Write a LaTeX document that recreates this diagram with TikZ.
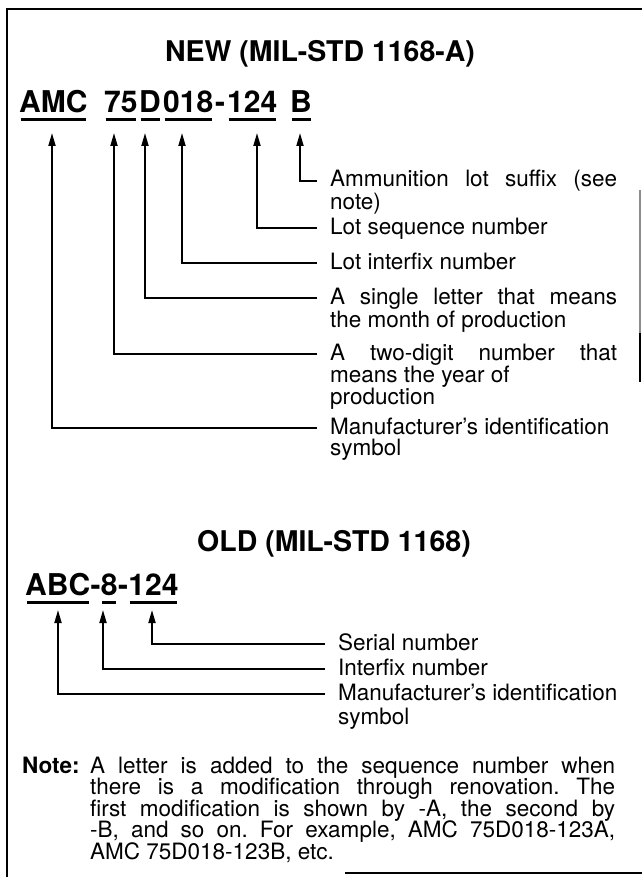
\documentclass[tikz,border=0pt]{standalone}
\usepackage{fontspec}
\setmainfont{TeX Gyre Heros}
\usetikzlibrary{arrows.meta}
\frenchspacing
\begin{document}
\begin{tikzpicture}[x=1pt,y=-1pt,
  lbl/.style={anchor=base west, inner sep=0pt, font=\fontsize{22.5}{26}\selectfont\frenchspacing},
  notelbl/.style={anchor=base west, inner sep=0pt, font=\fontsize{22.5}{26}\selectfont\bfseries},
  ttl/.style={anchor=base, inner sep=0pt, font=\fontsize{28.5}{32}\selectfont\bfseries},
  code/.style={anchor=base west, inner sep=0pt, font=\fontsize{30}{34}\selectfont\bfseries},
  uline/.style={line width=3pt, shorten <=1.5pt, shorten >=1.5pt},
  conn/.style={line width=1.8pt},
  arr/.style={conn, -{Triangle[length=13pt,width=7pt]}},
  frameline/.style={line width=2pt},
]
\useasboundingbox (0,0) rectangle (642,885);
% frame (as scanned)
\draw[frameline] (7,877) -- (7,9) -- (642,9);
\draw[frameline] (345,873) -- (642,873);
\draw[frameline, black!45] (640,190) -- (640,333);
\draw[frameline] (640,333) -- (640,382);

% ---------- NEW ----------
\node[ttl] (newt) at (320,62) {NEW (MIL-STD 1168-A)};
\node[code] (cAMC) at (19,113) {AMC};
\node[code] (c75) at (104,113) {75};
\node[code] (cD) at (139,113) {D};
\node[code] (c018) at (163,113) {018};
\node[code] (cdash) at (215,113) {-};
\node[code] (c124) at (227,113) {124};
\node[code] (cB) at (290,113) {B};
\foreach \n in {cAMC,c75,cD,c018,c124,cB}
  \draw[uline] ([yshift=-7pt]\n.base west) -- ([yshift=-7pt]\n.base east);

\coordinate (tAMC) at (52,133);
\coordinate (t75) at (114,133);
\coordinate (tD) at (145,133);
\coordinate (t018) at (182,133);
\coordinate (t124) at (257,133);
\coordinate (tB) at (300,133);

\node[lbl] (lB1) at (330,187) {\makebox[287pt][s]{Ammunition lot suffix (see}};
\node[lbl] (lB2) at (330,210) {note)};
\node[lbl] (l124) at (330,234) {Lot sequence number};
\node[lbl] (l018) at (330,269) {Lot interfix number};
\node[lbl] (lD1) at (330,304) {\makebox[287pt][s]{A single letter that means}};
\node[lbl] (lD2) at (330,327) {the month of production};
\node[lbl] (l751) at (330,360) {\makebox[287pt][s]{A two-digit number that}};
\node[lbl] (l752) at (330,382) {means the year of};
\node[lbl] (l753) at (330,404) {production};
\node[lbl] (lM1) at (330,434) {Manufacturer's identification};
\node[lbl] (lM2) at (330,455) {symbol};

\draw[arr] ([xshift=-13pt,yshift=6pt]lB1.base west) -| (tB);
\draw[arr] ([xshift=-13pt,yshift=6pt]l124.base west) -| (t124);
\draw[arr] ([xshift=-13pt,yshift=6pt]l018.base west) -| (t018);
\draw[arr] ([xshift=-13pt,yshift=6pt]lD1.base west) -| (tD);
\draw[arr] ([xshift=-13pt,yshift=6pt]l751.base west) -| (t75);
\draw[arr] ([xshift=-13pt,yshift=6pt]lM1.base west) -| (tAMC);

% ---------- OLD ----------
\node[ttl] (oldt) at (334,551) {OLD (MIL-STD 1168)};
\node[code] (oABC) at (25,595) {ABC};
\node[code] (od1) at (oABC.base east) {-};
\node[code] (o8) at (od1.base east) {8};
\node[code] (od2) at (o8.base east) {-};
\node[code] (o124) at (od2.base east) {124};
\foreach \n in {oABC,o8,o124}
  \draw[uline] ([yshift=-7pt]\n.base west) -- ([yshift=-7pt]\n.base east);

\coordinate (tABC) at (58,610);
\coordinate (t8) at (103,610);
\coordinate (to124) at (152,610);

\node[lbl] (oS) at (338,650) {Serial number};
\node[lbl] (oI) at (338,675) {Interfix number};
\node[lbl] (oM1) at (338,700) {Manufacturer's identification};
\node[lbl] (oM2) at (338,724) {symbol};

\draw[arr] ([xshift=-13pt,yshift=6pt]oS.base west) -| (to124);
\draw[arr] ([xshift=-13pt,yshift=6pt]oI.base west) -| (t8);
\draw[arr] ([xshift=-13pt,yshift=6pt]oM1.base west) -| (tABC);

% ---------- NOTE ----------
\node[notelbl] (note) at (22,773) {Note:};
\node[lbl] (n1) at (90,773) {\makebox[525pt][s]{A letter is added to the sequence number when}};
\node[lbl] (n2) at (90,794.5) {\makebox[525pt][s]{there is a modification through renovation. The}};
\node[lbl] (n3) at (90,816) {\makebox[525pt][s]{first modification is shown by -A, the second by}};
\node[lbl] (n4) at (90,837.5) {\makebox[525pt][s]{-B, and so on. For example, AMC 75D018-123A,}};
\node[lbl] (n5) at (90,859) {AMC 75D018-123B, etc.};
\end{tikzpicture}
\end{document}
